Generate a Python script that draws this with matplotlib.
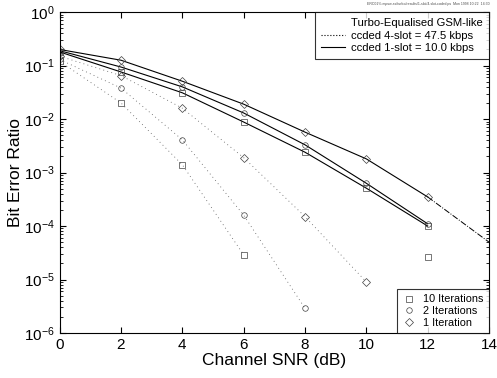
import matplotlib
matplotlib.use("Agg")
import matplotlib.pyplot as plt
from matplotlib.lines import Line2D
from matplotlib.ticker import NullFormatter

plt.rcParams['font.family'] = ['Liberation Sans', 'DejaVu Sans']

# 1-slot (solid lines)
snr_1slot = [0, 2, 4, 6, 8, 10, 12]
ber_1slot_it1 = [0.20, 0.126, 0.051, 0.019, 0.0057, 0.0018, 3.5e-4]
ber_1slot_it2 = [0.19, 0.094, 0.040, 0.013, 0.0033, 6.3e-4, 1.1e-4]
ber_1slot_it10 = [0.18, 0.076, 0.031, 0.0088, 0.0024, 5.1e-4, 1.0e-4]
# tail of the 1 iteration curve (dash-dot)
snr_tail = [12, 14]
ber_tail = [3.5e-4, 5.0e-5]

# 4-slot (dotted lines)
snr_4slot_it1 = [0, 2, 4, 6, 8, 10]
ber_4slot_it1 = [0.15, 0.065, 0.016, 0.0019, 1.5e-4, 9e-6]
snr_4slot_it2 = [0, 2, 4, 6, 8]
ber_4slot_it2 = [0.13, 0.038, 0.0041, 1.6e-4, 2.9e-6]
snr_4slot_it10 = [0, 2, 4, 6]
ber_4slot_it10 = [0.12, 0.020, 0.0014, 2.9e-5]
# lone point at 12 dB
snr_lone = [12]
ber_lone = [2.6e-5]

xticks = [0, 2, 4, 6, 8, 10, 12, 14]

fig = plt.figure(figsize=(4.97, 3.78), dpi=100)
ax = fig.add_axes([0.12, 0.119, 0.864, 0.849])

mk = dict(markerfacecolor='none', markeredgecolor='0.25', markersize=4, markeredgewidth=0.5)
lw = 0.8
dots = (0, (1, 4))

ax.plot(snr_1slot, ber_1slot_it1, '-', color='black', lw=lw, marker='D', **mk)
ax.plot(snr_1slot, ber_1slot_it2, '-', color='black', lw=lw, marker='o', **mk)
ax.plot(snr_1slot, ber_1slot_it10, '-', color='black', lw=lw, marker='s', **mk)
ax.plot(snr_tail, ber_tail, '-.', color='black', lw=0.7)

ax.plot(snr_4slot_it1, ber_4slot_it1, ls=dots, color='0.35', lw=0.6, marker='D', **mk)
ax.plot(snr_4slot_it2, ber_4slot_it2, ls=dots, color='0.35', lw=0.6, marker='o', **mk)
ax.plot(snr_4slot_it10, ber_4slot_it10, ls=dots, color='0.35', lw=0.6, marker='s', **mk)
ax.plot(snr_lone, ber_lone, linestyle='none', marker='s', **mk)

ax.set_yscale('log')
ax.set_xlim(0, 14)
ax.set_ylim(1e-6, 1)
ax.set_xticks(xticks)
ax.yaxis.set_minor_formatter(NullFormatter())
ax.tick_params(which='both', direction='in', top=True, right=True, labelsize=11)
ax.tick_params(which='major', length=4)
ax.tick_params(which='minor', length=2)
for s in ax.spines.values():
    s.set_linewidth(0.8)

ax.set_xlabel('Channel SNR (dB)', fontsize=12.5, labelpad=1)
ax.set_ylabel('Bit Error Ratio', fontsize=12.5, labelpad=1)

# line style legend (top right)
style_handles = [Line2D([], [], color='none'),
                 Line2D([], [], color='black', ls=':', lw=0.8),
                 Line2D([], [], color='black', ls='-', lw=0.8)]
style_labels = ['Turbo-Equalised GSM-like',
                'ccded 4-slot = 47.5 kbps',
                'ccded 1-slot = 10.0 kbps']
leg1 = ax.legend(style_handles, style_labels, loc='upper right', fontsize=8.1,
                 frameon=True, fancybox=False, edgecolor='black', handlelength=2.2,
                 borderpad=0.55, labelspacing=0.2, handletextpad=0.5,
                 borderaxespad=0.0)
leg1.get_frame().set_linewidth(0.8)
ax.add_artist(leg1)

# marker legend (bottom right)
mark_handles = [Line2D([], [], ls='none', marker='s', **mk),
                Line2D([], [], ls='none', marker='o', **mk),
                Line2D([], [], ls='none', marker='D', **mk)]
mark_labels = ['10 Iterations', '2 Iterations', '1 Iteration']
leg2 = ax.legend(mark_handles, mark_labels, loc='lower right', fontsize=7.8,
                 frameon=True, fancybox=False, edgecolor='black', handlelength=1.2,
                 borderpad=0.5, labelspacing=0.15, handletextpad=0.7,
                 borderaxespad=0.0)
leg2.get_frame().set_linewidth(0.8)

fig.text(0.985, 0.995, 'ERC01% mpsw-ss/turbo/results/1-slot/4-slot-coded.ps  Mon 1998 10:22  14:30',
         fontsize=2.5, ha='right', va='top', color='0.3')

fig.savefig('out.png', dpi=100)
